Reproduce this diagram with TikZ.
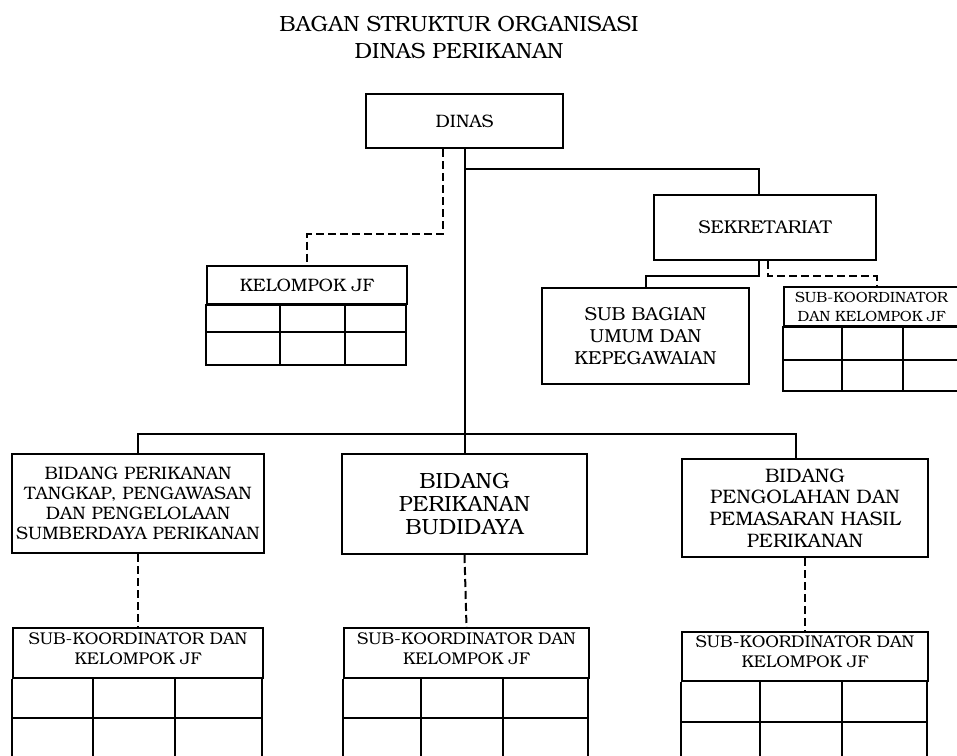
\documentclass[tikz,border=0pt]{standalone}
\usepackage[T1]{fontenc}
\usepackage{bookman}
\usepackage{tikz}
\usetikzlibrary{positioning}
\tikzset{
  line/.style={draw=black, line width=2pt},
  dashline/.style={draw=black, line width=2pt, dash pattern=on 8pt off 4pt},
  box/.style={draw=black, line width=2pt, inner sep=0pt, anchor=north west, align=center,
    font=\fontsize{18}{20}\selectfont},
  head/.style={box, font=\fontsize{17}{20}\selectfont},
  title/.style={align=center, font=\fontsize{22}{27}\selectfont},
}

\begin{document}
\begin{tikzpicture}[x=1pt, y=-1pt]
  \useasboundingbox (0,0) rectangle (957,755);
  \node[title] (title) at (459,37) {BAGAN STRUKTUR ORGANISASI\\DINAS PERIKANAN};
  % top
  \node[box, minimum width=197pt, minimum height=54pt] (dinas) at (365,93) {DINAS};
  \node[box, minimum width=222pt, minimum height=65pt, font=\fontsize{18.5}{20}\selectfont] (sekr) at (653,194) {SEKRETARIAT};
  \node[box, minimum width=207pt, minimum height=96pt, font=\fontsize{18.8}{22}\selectfont] (subbag) at (541,287)
    {SUB BAGIAN\\UMUM DAN\\KEPEGAWAIAN};
  % kelompok jf
  \node[head, minimum width=200pt, minimum height=38pt, font=\fontsize{18}{20}\selectfont] (kjf) at (206,265) {KELOMPOK JF};
  \draw[line] (kjf.south west) rectangle (406,365);
  \draw[line] (206,332) -- (406,332);
  \foreach \cx in {280,345} \draw[line] (\cx,303) -- (\cx,365);
  % sub-koordinator sekretariat
  \node[head, minimum width=175pt, minimum height=39pt, font=\fontsize{14.8}{19}\selectfont] (skjf0) at (783,286)
    {SUB-KOORDINATOR\\DAN KELOMPOK JF};
  \draw[line] (skjf0.south west) rectangle (958,391);
  \draw[line] (783,360) -- (958,360);
  \foreach \cx in {842,903} \draw[line] (\cx,325) -- (\cx,391);
  % bidang
  \node[box, minimum width=252pt, minimum height=99pt] (bid1) at (11,453)
    {BIDANG PERIKANAN\\TANGKAP, PENGAWASAN\\DAN PENGELOLAAN\\SUMBERDAYA PERIKANAN};
  \node[box, minimum width=245pt, minimum height=100pt, font=\fontsize{22}{23}\selectfont] (bid2) at (341,453)
    {BIDANG\\PERIKANAN\\BUDIDAYA};
  \node[box, minimum width=246pt, minimum height=98pt, font=\fontsize{19.5}{21.7}\selectfont] (bid3) at (681,458)
    {BIDANG\\PENGOLAHAN DAN\\PEMASARAN HASIL\\PERIKANAN};
  % sub-koordinator bidang
  \node[head, minimum width=250pt, minimum height=50pt, text depth=9pt] (sk1) at (12,627) {SUB-KOORDINATOR DAN\\KELOMPOK JF};
  \draw[line] (sk1.south west) -- (12,760) (262,677) -- (262,760) (12,718) -- (262,718);
  \foreach \cx in {93,175} \draw[line] (\cx,677) -- (\cx,760);
  \node[head, minimum width=245pt, minimum height=50pt, text depth=9pt] (sk2) at (343,627) {SUB-KOORDINATOR DAN\\KELOMPOK JF};
  \draw[line] (sk2.south west) -- (343,760) (588,677) -- (588,760) (343,718) -- (588,718);
  \foreach \cx in {421,503} \draw[line] (\cx,677) -- (\cx,760);
  \node[head, minimum width=246pt, minimum height=49pt, text depth=9pt] (sk3) at (681,631) {SUB-KOORDINATOR DAN\\KELOMPOK JF};
  \draw[line] (sk3.south west) -- (681,760) (927,680) -- (927,760) (681,722) -- (927,722);
  \foreach \cx in {760,842} \draw[line] (\cx,680) -- (\cx,760);
  % connectors
  \coordinate (bar) at (0,434);
  \draw[line] (dinas.south) -- (bid2.north);
  \draw[line] (dinas.south |- 0,169) -| ([xshift=-6pt]sekr.north);
  \draw[dashline] ([xshift=-22pt]dinas.south) -- ++(0,85) -| (kjf.north);
  \draw[line] ([xshift=-6pt]sekr.south) -- ++(0,15) -| (subbag.north);
  \draw[dashline] ([xshift=3pt]sekr.south) -- ++(0,15) -| ([xshift=5pt]skjf0.north);
  \draw[line] (bid1.north) -- (bid1.north |- bar) -- ([xshift=-9pt]bid3.north |- bar) -- ([xshift=-9pt]bid3.north);
  \draw[dashline] (bid1.south) -- (sk1.north);
  \draw[dashline] (bid2.south) -- (sk2.north);
  \draw[dashline] (bid3.south) -- (sk3.north);
\end{tikzpicture}
\end{document}
